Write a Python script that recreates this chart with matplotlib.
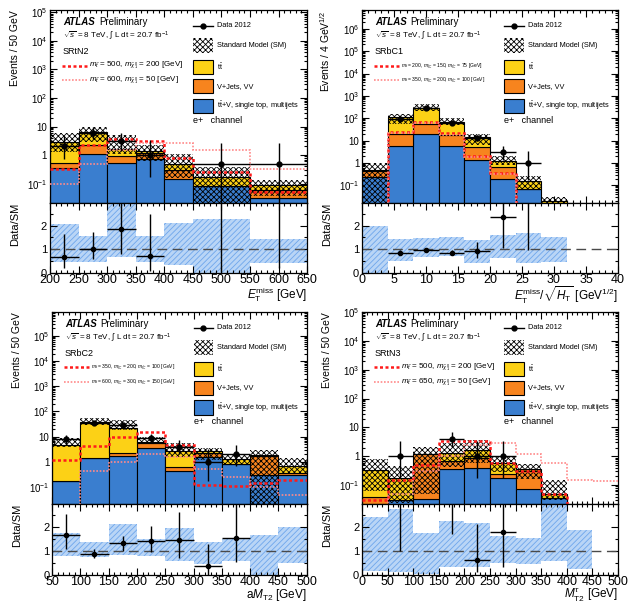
import numpy as np
import matplotlib
matplotlib.use('Agg')
import matplotlib.pyplot as plt
from matplotlib.patches import Rectangle
from matplotlib.lines import Line2D
from matplotlib.ticker import MultipleLocator, LogLocator, FuncFormatter, NullFormatter

plt.rcParams['font.family'] = ['Liberation Sans', 'DejaVu Sans']
plt.rcParams['mathtext.fontset'] = 'custom'
plt.rcParams['mathtext.rm'] = 'Liberation Sans'
plt.rcParams['mathtext.it'] = 'Liberation Sans:italic'
plt.rcParams['mathtext.bf'] = 'Liberation Sans:bold'
plt.rcParams['hatch.linewidth'] = 0.6

nan = np.nan

# ---------------- Panel 1: SRtN2 ----------------
edges1 = [200, 250, 300, 350, 400, 450, 550, 650]
blue1 = [0.34, 1.08, 0.51, 0.71, 0.14, 0.085, 0.032]
orange1 = [0.21, 1.16, 0.44, 0.44, 0.16, 0.0, 0.028]
ttbar1 = [2.25, 3.96, 0.65, 0.24, 0.20, 0.085, 0.03]
bandlo1 = [0.46, 0.46, 0.67, 0.46, 0.32, 0.0, 0.42]
bandhi1 = [2.07, 1.58, 3.2, 1.58, 2.11, 2.28, 1.44]
datax1 = [225, 275, 325, 375, 500, 600]
dataxe1 = [25, 25, 25, 25, 50, 50]
datay1 = [2, 6, 3, 1, 0.5, 0.5]
datalo1 = [1.29, 2.38, 1.63, 0.83, 0.49, 0.49]
datahi1 = [2.64, 3.58, 2.92, 2.30, 2.2, 2.2]
ratioy1 = [0.68, 1.03, 1.87, 0.72, 3.5, 3.5]
ratiolo1 = [0.46, 0.43, 1.07, 0.62, 3.45, 3.3]
ratiohi1 = [0.97, 0.69, 1.2, 1.78, 0.0, 0.0]
sigA1 = [0.33, 2.2, 3.6, 3.1, 0.8, 0.25, 0.05]
sigB1 = [0.1, 0.5, 1.5, 2.6, 2.7, 1.45, 0.32]

# ---------------- Panel 2: SRbC1 ----------------
edges2 = [0, 4, 8, 12, 16, 20, 24, 28, 32, 36, 40]
blue2 = [0.24, 6.0, 19.4, 6.0, 1.37, 0.19, 0.066, 0.005, 0, 0]
orange2 = [0.21, 13.4, 36.6, 12.0, 4.03, 0.49, 0.0, 0.005, 0, 0]
ttbar2 = [0.05, 88.6, 244.0, 53.0, 9.2, 0.57, 0.089, 0.009, 0, 0]
bandlo2 = [0.0, 0.5, 0.67, 0.7, 0.42, 0.63, 0.42, 0.46, nan, nan]
bandhi2 = [1.96, 1.44, 1.48, 1.51, 1.37, 1.62, 1.69, 1.51, nan, nan]
datax2 = [6, 10, 14, 18, 22, 26]
dataxe2 = [2, 2, 2, 2, 2, 2]
datay2 = [93, 290, 60, 13, 3, 1]
datalo2 = [9.6, 17.0, 7.7, 3.6, 1.63, 0.83]
datahi2 = [10.7, 18.0, 8.8, 4.7, 2.92, 2.30]
ratioy2 = [0.85, 0.97, 0.85, 0.93, 2.37, 3.5]
ratiolo2 = [0.09, 0.06, 0.11, 0.3, 1.3, 2.55]
ratiohi2 = [0.1, 0.06, 0.12, 0.36, 2.3, 0.0]
sigA2 = [0.005, 24, 71, 21, 2.0, 0.35, 0.01, 0.01, 0.01, 0.01]
sigB2 = [0.005, 21, 64, 18.5, 1.8, 0.33, 0.01, 0.01, 0.01, 0.01]

# ---------------- Panel 3: SRbC2 ----------------
edges3 = [50, 100, 150, 200, 250, 300, 350, 400, 450, 500]
blue3 = [0.166, 1.4, 1.78, 3.5, 0.44, 1.6, 0.81, 0.3, 0.3]
orange3 = [0.004, 0.02, 0.42, 2.0, 0.21, 0.6, 0.04, 1.45, 0.06]
ttbar3 = [4.68, 38.6, 19.8, 0.9, 2.15, 0.4, 0.48, 0.05, 0.34]
bandlo3 = [0.77, 0.75, 0.85, 0.77, 0.56, 0.46, 0.56, 0.0, 0.49]
bandhi3 = [1.76, 1.37, 2.11, 1.5, 1.97, 1.38, 1.48, 1.66, 2.0]
datax3 = [75, 125, 175, 225, 275, 325, 375]
dataxe3 = [25, 25, 25, 25, 25, 25, 25]
datay3 = [8, 36, 29, 9, 4, 1, 2]
datalo3 = [2.77, 5.97, 5.35, 2.94, 1.91, 0.83, 1.29]
datahi3 = [3.94, 7.05, 6.45, 4.11, 3.16, 2.30, 2.64]
ratioy3 = [1.68, 0.89, 1.31, 1.41, 1.45, 0.38, 1.52]
ratiolo3 = [0.6, 0.19, 0.3, 0.47, 0.75, 0.38, 1.0]
ratiohi3 = [0.84, 0.17, 0.31, 0.63, 1.15, 0.89, 1.6]
sigA3 = [1.13, 4.1, 10.0, 16.0, 4.7, 0.12, 0.11, 0.15, 0.19]
sigB3 = [0.005, 0.45, 1.0, 2.1, 1.5, 0.5, 0.25, 0.1, 0.05]

# ---------------- Panel 4: SRtN3 ----------------
edges4 = [0, 50, 100, 150, 200, 250, 300, 350, 400, 450, 500]
blue4 = [0.01, 0.03, 0.033, 0.36, 0.40, 0.17, 0.075, 0.035, 0.005, 0]
orange4 = [0.03, 0.0, 1.167, 0.31, 0.5, 0.08, 0.225, 0.0, 0.003, 0]
ttbar4 = [0.30, 0.14, 0.02, 0.63, 0.8, 0.31, 0.06, 0.015, 0.004, 0]
bandlo4 = [0.18, 0.14, 0.04, 0.32, 0.34, 0.49, 0.45, 0.59, 0.25, nan]
bandhi4 = [2.41, 2.74, 1.75, 2.23, 2.16, 1.62, 1.55, 3.1, 1.86, nan]
datax4 = [75, 175, 225, 275]
dataxe4 = [25, 25, 25, 25]
datay4 = [1, 4, 1, 1]
datalo4 = [0.83, 1.91, 0.83, 0.83]
datahi4 = [2.30, 3.16, 2.30, 2.30]
ratioy4 = [3.5, 3.5, 0.63, 1.78]
ratiolo4 = [2.5, 1.8, 0.52, 1.46]
ratiohi4 = [0.0, 0.0, 1.47, 1.2]
sigA4 = [0.03, 0.15, 0.5, 3.3, 3.3, 0.6, 0.3, 0.05, 0.02, 0.02]
sigB4 = [0.01, 0.05, 0.3, 1.0, 2.5, 2.8, 1.2, 0.59, 0.15, 0.135]

C_BLUE = '#3a7ecf'
C_ORANGE = '#f7841e'
C_YELLOW = '#fcd116'
C_RED = '#ff1a1a'
C_PINK = '#ff8a8a'


def logfmt(v, pos):
    if v <= 0:
        return ''
    e = int(round(np.log10(v)))
    if abs(np.log10(v) - e) > 1e-6:
        return ''
    if e == 0:
        return '1'
    if e == 1:
        return '10'
    return r'$10^{%d}$' % e


def panel(fig, rm, rr, edges, blue, orange, ttbar, blo, bhi,
          dx, dxe, dy, dlo, dhi, ry, rlo, rhi, sA, sB,
          ylim, xmaj, xmin_, xlabel, ylabel, region, labels, lfs):
    ax = fig.add_axes(rm)
    axr = fig.add_axes(rr)
    e = np.asarray(edges, float)
    left = e[:-1]
    w = np.diff(e)
    b = np.asarray(blue, float)
    o = np.asarray(orange, float)
    t = np.asarray(ttbar, float)
    floor = 1e-4
    c1 = b
    c2 = b + o
    c3 = c2 + t
    m = c3 > 0
    kw = dict(align='edge', edgecolor='black', linewidth=0.8)
    ax.bar(left[m], (c1 - floor)[m], w[m], bottom=floor, color=C_BLUE, zorder=2, **kw)
    ax.bar(left[m], o[m], w[m], bottom=c1[m], color=C_ORANGE, zorder=2, **kw)
    ax.bar(left[m], t[m], w[m], bottom=c2[m], color=C_YELLOW, zorder=2, **kw)
    lo = np.asarray(blo, float)
    hi = np.asarray(bhi, float)
    mb = m & np.isfinite(lo)
    bot = np.maximum(c3 * lo, floor)
    ax.bar(left[mb], (c3 * hi - bot)[mb], w[mb], bottom=bot[mb], align='edge',
           fill=False, hatch='xxxxxx', edgecolor='black', linewidth=0, zorder=3)
    ax.stairs(sA, e, baseline=None, color=C_RED, linestyle=(0, (1.2, 1.0)), linewidth=1.8, zorder=4)
    ax.stairs(sB, e, baseline=None, color=C_PINK, linestyle=(0, (1.0, 1.0)), linewidth=1.2, zorder=4)
    ax.errorbar(dx, dy, xerr=dxe, yerr=[dlo, dhi], fmt='o', color='black', ms=3.5,
                lw=1.0, capsize=0, zorder=5)
    ax.set_yscale('log')
    ax.set_ylim(*ylim)
    ax.set_xlim(e[0], e[-1])
    ax.yaxis.set_major_locator(LogLocator(base=10, numticks=20))
    ax.yaxis.set_minor_locator(LogLocator(base=10, subs=np.arange(2, 10), numticks=20))
    ax.yaxis.set_major_formatter(FuncFormatter(logfmt))
    ax.yaxis.set_minor_formatter(NullFormatter())
    ax.xaxis.set_major_locator(MultipleLocator(xmaj))
    ax.xaxis.set_minor_locator(MultipleLocator(xmin_))
    ax.tick_params(axis='x', labelbottom=False)
    ax.set_ylabel(ylabel, fontsize=7.5, loc='top')
    ax.yaxis.set_label_coords(-0.117, 1.0)

    # ratio panel
    mb2 = np.isfinite(lo)
    axr.bar(left[mb2], (hi - lo)[mb2], w[mb2], bottom=lo[mb2], align='edge',
            color='#b9d5f6', hatch='//////', edgecolor='#6ea6ec', linewidth=0, zorder=1)
    axr.axhline(1.0, color='#4a4a4a', linestyle=(0, (7, 4)), linewidth=1.0, zorder=2)
    axr.errorbar(dx, ry, xerr=dxe, yerr=[rlo, rhi], fmt='o', color='black', ms=3,
                 lw=1.0, capsize=0, zorder=5)
    axr.set_xlim(e[0], e[-1])
    axr.set_ylim(0, 2.95)
    axr.yaxis.set_major_locator(MultipleLocator(1))
    axr.yaxis.set_minor_locator(MultipleLocator(0.5))
    axr.xaxis.set_major_locator(MultipleLocator(xmaj))
    axr.xaxis.set_minor_locator(MultipleLocator(xmin_))
    axr.set_ylabel('Data/SM', fontsize=8, loc='top')
    axr.yaxis.set_label_coords(-0.117, 1.0)
    axr.set_xlabel(xlabel, fontsize=8.5, loc='right')
    axr.xaxis.set_label_coords(1.0, -0.17)
    axr.tick_params(axis='x', labelsize=9, pad=1)
    axr.tick_params(axis='y', labelsize=8, pad=2)

    for a in (ax, axr):
        a.tick_params(which='both', direction='in', top=True, right=True, width=0.8)
        a.tick_params(which='major', length=5)
        a.tick_params(which='minor', length=2.5)
        for s in a.spines.values():
            s.set_linewidth(0.9)
    ax.tick_params(axis='y', labelsize=7, pad=2)

    # texts
    tr = ax.transAxes
    ax.text(0.05, 0.94, 'ATLAS', transform=tr, fontsize=7, fontweight='bold',
            fontstyle='italic', va='center', ha='left')
    ax.text(0.19, 0.94, 'Preliminary', transform=tr, fontsize=7, va='center', ha='left')
    ax.text(0.05, 0.868, r'$\sqrt{s}$ = 8 TeV, $\int$ L dt = 20.7 fb$^{-1}$', transform=tr,
            fontsize=5.8, va='center', ha='left')
    ax.text(0.05, 0.786, region, transform=tr, fontsize=6.5, va='center', ha='left')
    ax.add_line(Line2D([0.047, 0.144], [0.712, 0.712], transform=tr, color=C_RED,
                       linestyle=(0, (1.2, 1.0)), linewidth=1.8))
    ax.add_line(Line2D([0.047, 0.144], [0.637, 0.637], transform=tr, color=C_PINK,
                       linestyle=(0, (1.0, 1.0)), linewidth=1.2))
    ax.text(0.152, 0.712, labels[0], transform=tr, fontsize=lfs, va='center', ha='left')
    ax.text(0.152, 0.637, labels[1], transform=tr, fontsize=lfs, va='center', ha='left')

    lx0, lx1 = 0.556, 0.632
    tx = 0.648
    fs = 5.3
    ax.add_line(Line2D([lx0, lx1], [0.918, 0.918], transform=tr, color='black', lw=1.0))
    ax.add_line(Line2D([(lx0 + lx1) / 2], [0.918], transform=tr, color='black',
                       marker='o', ms=3.5, lw=0))
    ax.text(tx, 0.918, 'Data 2012', transform=tr, fontsize=fs, va='center')
    ax.add_patch(Rectangle((lx0, 0.777), lx1 - lx0, 0.076, transform=tr, facecolor='white',
                           hatch='xxxxxx', edgecolor='black', linewidth=0))
    ax.text(tx, 0.815, 'Standard Model (SM)', transform=tr, fontsize=fs, va='center')
    entries = [(0.668, C_YELLOW, r'$\mathrm{t\bar{t}}$'),
               (0.568, C_ORANGE, 'V+Jets, VV'),
               (0.466, C_BLUE, r'$\mathrm{t\bar{t}}$+V, single top, multijets')]
    for y0, col, lab in entries:
        ax.add_patch(Rectangle((lx0, y0), lx1 - lx0, 0.074, transform=tr, facecolor=col,
                               edgecolor='black', linewidth=0.8))
        ax.text(tx, y0 + 0.037, lab, transform=tr, fontsize=fs, va='center')
    ax.text(lx0, 0.43, 'e+   channel', transform=tr, fontsize=6.5, va='center')
    return ax, axr


fig = plt.figure(figsize=(6.4, 6.06), dpi=100)

mt = r'$m_{\tilde{t}}$'
mn = r'$m_{\tilde{\chi}^{0}_{1}}$'
mc = r'$m_{\tilde{\chi}^{\pm}_{1}}$'

panel(fig, [0.078, 0.665, 0.402, 0.3185], [0.078, 0.5495, 0.402, 0.1155],
      edges1, blue1, orange1, ttbar1, bandlo1, bandhi1,
      datax1, dataxe1, datay1, datalo1, datahi1, ratioy1, ratiolo1, ratiohi1,
      sigA1, sigB1, (0.021, 1.2e5), 50, 10,
      r'$E_{\mathrm{T}}^{\mathrm{miss}}$ [GeV]', 'Events / 50 GeV', 'SRtN2',
      [mt + ' = 500, ' + mn + ' = 200 [GeV]', mt + ' = 600, ' + mn + ' = 50 [GeV]'], 5.8)

panel(fig, [0.5656, 0.665, 0.4, 0.3185], [0.5656, 0.5495, 0.4, 0.1155],
      edges2, blue2, orange2, ttbar2, bandlo2, bandhi2,
      datax2, dataxe2, datay2, datalo2, datahi2, ratioy2, ratiolo2, ratiohi2,
      sigA2, sigB2, (0.016, 7e6), 5, 1,
      r'$E_{\mathrm{T}}^{\mathrm{miss}}/\sqrt{H_{\mathrm{T}}}$ [GeV$^{1/2}$]',
      r'Events / 4 GeV$^{1/2}$', 'SRbC1',
      [mt + ' = 200, ' + mc + ' = 150, ' + mn + ' = 75 [GeV]',
       mt + ' = 350, ' + mc + ' = 200, ' + mn + ' = 100 [GeV]'], 3.6)

panel(fig, [0.0813, 0.1683, 0.398, 0.3168], [0.0813, 0.0512, 0.398, 0.1172],
      edges3, blue3, orange3, ttbar3, bandlo3, bandhi3,
      datax3, dataxe3, datay3, datalo3, datahi3, ratioy3, ratiolo3, ratiohi3,
      sigA3, sigB3, (0.021, 9e5), 50, 10,
      r'a$M_{\mathrm{T2}}$ [GeV]', 'Events / 50 GeV', 'SRbC2',
      [mt + ' = 350, ' + mc + ' = 200, ' + mn + ' = 100 [GeV]',
       mt + ' = 600, ' + mc + ' = 300, ' + mn + ' = 150 [GeV]'], 3.6)

panel(fig, [0.5656, 0.1683, 0.4, 0.3168], [0.5656, 0.0512, 0.4, 0.1172],
      edges4, blue4, orange4, ttbar4, bandlo4, bandhi4,
      datax4, dataxe4, datay4, datalo4, datahi4, ratioy4, ratiolo4, ratiohi4,
      sigA4, sigB4, (0.022, 1.0e5), 50, 10,
      r'$M_{\mathrm{T2}}^{\tau}$ [GeV]', 'Events / 50 GeV', 'SRtN3',
      [mt + ' = 500, ' + mn + ' = 200 [GeV]', mt + ' = 650, ' + mn + ' = 50 [GeV]'], 5.8)

fig.savefig('out.png', dpi=100)
